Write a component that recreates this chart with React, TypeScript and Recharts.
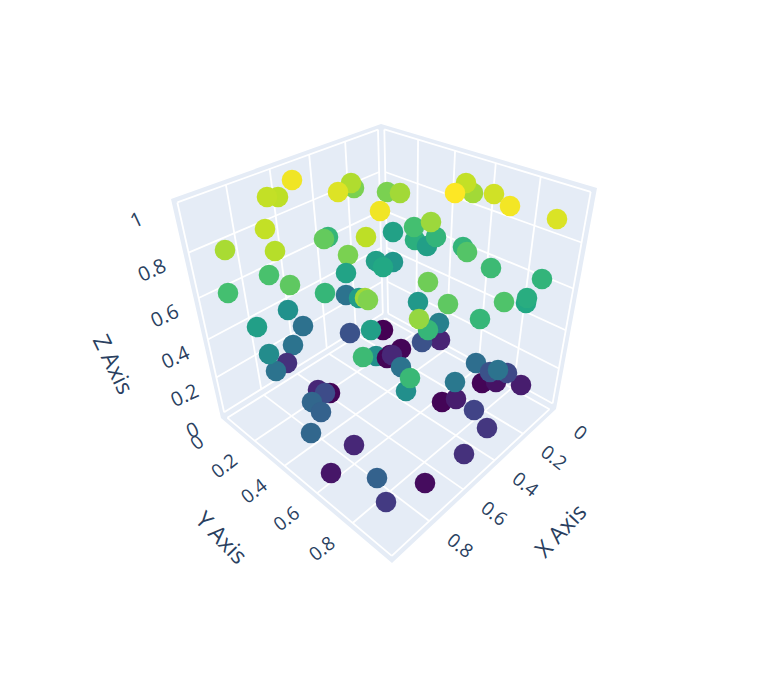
import React from 'react';
import { ScatterChart, Scatter, XAxis, YAxis } from 'recharts';

// the scene is a 3d plot flattened to the picture plane, so marks are in plane units
const WIDTH = 766;
const HEIGHT = 675;

const gridValues = [0, 0.2, 0.4, 0.6, 0.8, 1];
const xyTickValues = [0, 0.2, 0.4, 0.6, 0.8];
const zTickValues = [0, 0.2, 0.4, 0.6, 0.8, 1];
const rangePad = 0.02;

// cube corners at the ends of the axis ranges, named by x, y, z
const c100 = { x: 221, y: 418 };
const c000 = { x: 385.5, y: 315 };
const c010 = { x: 556, y: 409 };
const c110 = { x: 392, y: 563 };
const c101 = { x: 171, y: 199 };
const c001 = { x: 381, y: 124 };
const c011 = { x: 597, y: 188 };

const wallOutline = [c101, c001, c011, c010, c110, c100];

const planeX = [
  292, 278, 267, 354, 351, 338, 265, 275, 225, 328, 324, 366, 348, 387, 400, 380, 393,
  473, 466, 455, 494, 510, 557, 415, 414, 427, 436, 431, 463, 467, 491,
  393, 376, 383, 269, 346, 228, 290, 325, 542, 526, 527, 428, 448, 504,
  346, 359, 365, 368, 288, 257, 303, 418, 480, 350,
  383, 371, 293, 287, 276, 269, 390, 376, 363,
  440, 422, 439, 428, 419, 387, 401, 392, 401, 406, 410,
  318, 330, 325, 312, 321, 311, 354, 331, 377, 386,
  482, 496, 476, 521, 490, 507, 498, 442, 456, 455, 474, 487, 464, 425,
];
const planeY = [
  180, 197, 197, 188, 183, 192, 229, 251, 250, 237, 239, 237, 255, 192, 193, 211, 232,
  193, 183, 193, 194, 206, 219, 240, 227, 246, 237, 222, 247, 252, 268,
  262, 261, 267, 275, 273, 293, 285, 293, 279, 303, 298, 282, 304, 302,
  295, 298, 298, 300, 310, 327, 326, 302, 319, 333,
  330, 330, 345, 363, 371, 354, 355, 356, 357,
  340, 342, 323, 330, 319, 358, 349, 355, 367, 391, 378,
  390, 393, 393, 402, 412, 433, 445, 473, 478, 502,
  383, 382, 363, 385, 372, 373, 370, 402, 399, 382, 410, 428, 454, 483,
];
const pointZ = [
  0.98, 0.9, 0.91, 0.8, 0.88, 0.95, 0.91, 0.89, 0.87, 0.66, 0.76, 0.9, 0.8, 0.8, 0.86, 0.98, 0.57,
  0.86, 0.91, 1.0, 0.93, 0.985, 0.945, 0.63, 0.7, 0.56, 0.65, 0.85, 0.65, 0.73, 0.68,
  0.52, 0.56, 0.6, 0.71, 0.58, 0.7, 0.75, 0.66, 0.65, 0.6, 0.62, 0.78, 0.75, 0.72,
  0.38, 0.55, 0.86, 0.81, 0.5, 0.56, 0.37, 0.53, 0.66, 0.25,
  0.0, 0.56, 0.38, 0.14, 0.38, 0.48, 0.01, 0.49, 0.68,
  0.1, 0.25, 0.43, 0.66, 0.84, 0.01, 0.01, 0.11, 0.38, 0.49, 0.67,
  0.11, 0.01, 0.23, 0.33, 0.31, 0.33, 0.11, 0.06, 0.31, 0.17,
  0.01, 0.05, 0.36, 0.08, 0.25, 0.22, 0.38, 0.01, 0.08, 0.4, 0.2, 0.16, 0.14, 0.03,
];

// viridis stops at 0, 0.1 ... 1
const viridis = [
  [68, 1, 84], [72, 36, 117], [65, 68, 135], [53, 95, 141], [42, 120, 142], [33, 145, 140],
  [34, 168, 132], [68, 191, 112], [122, 209, 81], [189, 223, 38], [253, 231, 37],
];

function viridisColor(v: number) {
  const pos = Math.min(Math.max(v, 0), 1) * (viridis.length - 1);
  const i = Math.min(Math.floor(pos), viridis.length - 2);
  const f = pos - i;
  const rgb = viridis[i].map((c, k) => Math.round(c + (viridis[i + 1][k] - c) * f));
  return `rgb(${rgb.join(',')})`;
}

type P = { x: number; y: number };

// perspective map of the unit square on a quad: p00, p10, p11, p01
function quadMap(p00: P, p10: P, p11: P, p01: P) {
  const dx1 = p10.x - p11.x;
  const dx2 = p01.x - p11.x;
  const sx = p00.x - p10.x + p11.x - p01.x;
  const dy1 = p10.y - p11.y;
  const dy2 = p01.y - p11.y;
  const sy = p00.y - p10.y + p11.y - p01.y;
  const det = dx1 * dy2 - dx2 * dy1;
  const g = (sx * dy2 - dx2 * sy) / det;
  const h = (dx1 * sy - sx * dy1) / det;
  const a = p10.x - p00.x + g * p10.x;
  const b = p01.x - p00.x + h * p01.x;
  const d = p10.y - p00.y + g * p10.y;
  const e = p01.y - p00.y + h * p01.y;
  return (s: number, t: number): P => {
    const w = g * s + h * t + 1;
    return { x: (a * s + b * t + p00.x) / w, y: (d * s + e * t + p00.y) / w };
  };
}

const floor = quadMap(c000, c100, c110, c010); // s = x, t = y
const wallX0 = quadMap(c000, c010, c011, c001); // s = y, t = z
const wallY0 = quadMap(c000, c100, c101, c001); // s = x, t = z

const toRange = (v: number) => (v + rangePad) / (1 + 2 * rangePad);
const zero = toRange(0);
const one = toRange(1);

const gridLines: P[][] = [];
gridValues.forEach((v) => {
  const s = toRange(v);
  gridLines.push([floor(s, zero), floor(s, one)]);
  gridLines.push([floor(zero, s), floor(one, s)]);
  gridLines.push([wallX0(s, zero), wallX0(s, one)]);
  gridLines.push([wallX0(zero, s), wallX0(one, s)]);
  gridLines.push([wallY0(s, zero), wallY0(s, one)]);
  gridLines.push([wallY0(zero, s), wallY0(one, s)]);
});

const labelOf = (v: number) => String(v);

const xTicks = xyTickValues.map((v) => {
  const p = floor(toRange(v), 1);
  return { x: p.x + 27, y: p.y + 21, text: labelOf(v), angle: 38 };
});
const yTicks = xyTickValues.map((v) => {
  const p = floor(1, toRange(v));
  return { x: p.x - 27, y: p.y + 22, text: labelOf(v), angle: -38 };
});
const zTicks = zTickValues.map((v) => {
  const p = wallY0(1, toRange(v));
  return { x: p.x - 28 - 8 * v * v * v, y: p.y + 15, text: labelOf(v), angle: -25 };
});

const axisTitles = [
  { x: 560, y: 530, text: 'X Axis', angle: -47 },
  { x: 222, y: 537, text: 'Y Axis', angle: 46 },
  { x: 114, y: 364, text: 'Z Axis', angle: 64 },
];

const points = planeX.map((x, i) => ({ x, y: planeY[i], z: pointZ[i] }));

const TEXT_COLOR = '#2a3f5f';
const FONT = '"Open Sans", sans-serif';

const rotatedText = (size: number) => (props: any) => {
  const { cx, cy, payload } = props;
  return (
    <text
      x={cx}
      y={cy}
      fill={TEXT_COLOR}
      fontFamily={FONT}
      fontSize={size}
      textAnchor="middle"
      dominantBaseline="central"
      transform={`rotate(${payload.angle} ${cx} ${cy})`}
    >
      {payload.text}
    </text>
  );
};

const noMark = () => <g />;

export default function App() {
  return (
    <div style={{ position: 'absolute', left: 0, top: 0, width: WIDTH, height: HEIGHT, background: '#fff' }}>
      <ScatterChart width={WIDTH} height={HEIGHT} margin={{ top: 0, right: 0, bottom: 0, left: 0 }}>
        <XAxis type="number" dataKey="x" domain={[0, WIDTH]} hide />
        <YAxis type="number" dataKey="y" domain={[0, HEIGHT]} reversed hide />
        <Scatter
          data={wallOutline}
          shape={noMark}
          isAnimationActive={false}
          line={(props: any) => (
            <polygon points={props.points.map((p: P) => `${p.x},${p.y}`).join(' ')} fill="#e5ecf6" />
          )}
        />
        {gridLines.map((line, i) => (
          <Scatter
            key={i}
            data={line}
            shape={noMark}
            isAnimationActive={false}
            line={{ stroke: '#ffffff', strokeWidth: 1.8 }}
          />
        ))}
        <Scatter
          data={points}
          isAnimationActive={false}
          shape={(props: any) => (
            <circle cx={props.cx} cy={props.cy} r={10.3} fill={viridisColor(props.payload.z)} />
          )}
        />
        <Scatter data={xTicks} shape={rotatedText(19)} isAnimationActive={false} />
        <Scatter data={yTicks} shape={rotatedText(19)} isAnimationActive={false} />
        <Scatter data={zTicks} shape={rotatedText(20)} isAnimationActive={false} />
        <Scatter data={axisTitles} shape={rotatedText(23)} isAnimationActive={false} />
      </ScatterChart>
    </div>
  );
}
